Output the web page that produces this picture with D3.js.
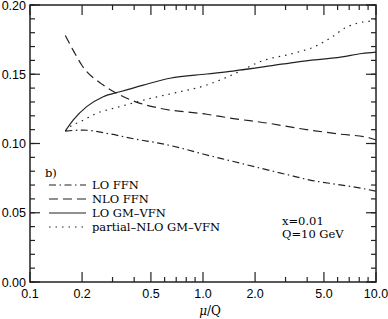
<!DOCTYPE html>
<html>
<head>
<meta charset="utf-8">
<script src="https://cdn.jsdelivr.net/npm/d3@7"></script>
<style>
  body { margin: 0; background: #fff; }
  svg { display: block; }
</style>
</head>
<body>
<svg id="chart" width="388" height="319"></svg>
<script>
// ---- data ----
const loFFN_mu  = [0.16, 0.203, 0.29, 0.414, 0.564, 0.74, 1.0, 1.5, 2.13, 3.0, 4.15, 6.0, 8.0, 10];
const loFFN     = [0.109, 0.1097, 0.1069, 0.103, 0.1001, 0.0968, 0.0924, 0.0870, 0.0823, 0.0778, 0.0736, 0.0704, 0.0680, 0.0655];

const nloFFN_mu = [0.16, 0.18, 0.199, 0.265, 0.317, 0.433, 0.564, 1.05, 1.5, 2.34, 3.54, 5.96, 9.2, 10];
const nloFFN    = [0.178, 0.166, 0.1567, 0.1422, 0.1363, 0.129, 0.1254, 0.1211, 0.118, 0.1148, 0.111, 0.107, 0.104, 0.1025];

const loGM_mu   = [0.16, 0.178, 0.2126, 0.265, 0.331, 0.452, 0.644, 1.05, 1.49, 2.44, 3.54, 6.36, 8.3, 10];
const loGM      = [0.109, 0.117, 0.1266, 0.1338, 0.1374, 0.1422, 0.1471, 0.1502, 0.1523, 0.156, 0.159, 0.1625, 0.165, 0.166];

const pnloGM_mu = [0.16, 0.17, 0.195, 0.243, 0.331, 0.472, 0.674, 1.05, 1.38, 1.64, 2.13, 3.40, 4.44, 5.57, 6.62, 7.87, 9.6, 10];
const pnloGM    = [0.109, 0.1121, 0.1157, 0.1218, 0.1266, 0.1319, 0.1363, 0.1422, 0.148, 0.1523, 0.159, 0.1654, 0.170, 0.177, 0.1834, 0.187, 0.189, 0.19];

const xTicks  = [0.1, 0.2, 0.5, 1, 2, 5, 10];
const xLabels = ["0.1", "0.2", "0.5", "1.0", "2.0", "5.0", "10.0"];
const xMinor  = [0.3, 0.4, 0.6, 0.7, 0.8, 0.9, 3, 4, 6, 7, 8, 9];
const yTicks  = [0, 0.05, 0.10, 0.15, 0.20];
const yMinor  = d3.range(0, 0.2001, 0.01);

const seriesNames = ["LO FFN", "NLO FFN", "LO GM\u2013VFN", "partial\u2013NLO GM\u2013VFN"];
const seriesDash  = ["7,3.5,1.5,3.5", "9,5", null, "1.5,5"];

// ---- layout ----
const svg = d3.select("#chart");
const m = {left: 30, right: 376, top: 5, bottom: 282};

const x = d3.scaleLog().domain([0.1, 10]).range([m.left, m.right]);
const y = d3.scaleLinear().domain([0, 0.2]).range([m.bottom, m.top]);

const ink = "#222";
const g = svg.append("g");

// ticks on all four sides, pointing inward
const major = 10, minor = 5;
function vTick(v, len) {
  g.append("line").attr("x1", x(v)).attr("x2", x(v)).attr("y1", m.bottom).attr("y2", m.bottom - len)
    .attr("stroke", ink).attr("stroke-width", 1.2);
  g.append("line").attr("x1", x(v)).attr("x2", x(v)).attr("y1", m.top).attr("y2", m.top + len)
    .attr("stroke", ink).attr("stroke-width", 1.2);
}
function hTick(v, len) {
  g.append("line").attr("y1", y(v)).attr("y2", y(v)).attr("x1", m.left).attr("x2", m.left + len)
    .attr("stroke", ink).attr("stroke-width", 1.2);
  g.append("line").attr("y1", y(v)).attr("y2", y(v)).attr("x1", m.right).attr("x2", m.right - len)
    .attr("stroke", ink).attr("stroke-width", 1.2);
}
xTicks.forEach(v => vTick(v, major));
xMinor.forEach(v => vTick(v, minor));
yMinor.forEach(v => hTick(v, minor));
yTicks.forEach(v => hTick(v, major));

g.append("rect").attr("x", m.left).attr("y", m.top)
  .attr("width", m.right - m.left).attr("height", m.bottom - m.top)
  .attr("fill", "none").attr("stroke", ink).attr("stroke-width", 1.5);

// tick labels
const sans = "'Liberation Sans', Arial, sans-serif";
g.selectAll(".xl").data(xTicks).join("text")
  .attr("x", d => x(d)).attr("y", 298)
  .attr("text-anchor", "middle").attr("font-family", sans).attr("font-size", 12.5)
  .text((d, i) => xLabels[i]);
g.selectAll(".yl").data(yTicks).join("text")
  .attr("x", 26).attr("y", d => y(d) + 4.5)
  .attr("text-anchor", "end").attr("font-family", sans).attr("font-size", 12.5)
  .text(d => d.toFixed(2));

// axis title
const serif = "'DejaVu Serif', 'Liberation Serif', serif";
const title = g.append("text").attr("x", 210).attr("y", 315).attr("text-anchor", "middle")
  .attr("font-family", serif).attr("font-size", 12);
title.append("tspan").attr("font-style", "italic").text("\u03bc");
title.append("tspan").text("/Q");

// curves
const line = d3.line().x(d => x(d[0])).y(d => y(d[1])).curve(d3.curveMonotoneX);
const series = [
  d3.zip(loFFN_mu, loFFN),
  d3.zip(nloFFN_mu, nloFFN),
  d3.zip(loGM_mu, loGM),
  d3.zip(pnloGM_mu, pnloGM)
];
series.forEach((s, i) => {
  g.append("path").attr("d", line(s)).attr("fill", "none")
    .attr("stroke", ink).attr("stroke-width", 1.2)
    .attr("stroke-dasharray", seriesDash[i]);
});

// legend
g.append("text").attr("x", 45).attr("y", 177).attr("font-family", serif).attr("font-size", 11.5).text("b)");
seriesNames.forEach((name, i) => {
  const yy = 185 + i * 14;
  g.append("line").attr("x1", 49).attr("x2", 86).attr("y1", yy).attr("y2", yy)
    .attr("stroke", ink).attr("stroke-width", 1.2).attr("stroke-dasharray", seriesDash[i]);
  g.append("text").attr("x", 92).attr("y", yy + 4).attr("font-family", serif)
    .attr("font-size", 11.5).text(name);
});

// annotation
g.append("text").attr("x", 282).attr("y", 225).attr("font-family", serif).attr("font-size", 11.5).text("x=0.01");
g.append("text").attr("x", 282).attr("y", 238).attr("font-family", serif).attr("font-size", 11.5).text("Q=10 GeV");
</script>
</body>
</html>
